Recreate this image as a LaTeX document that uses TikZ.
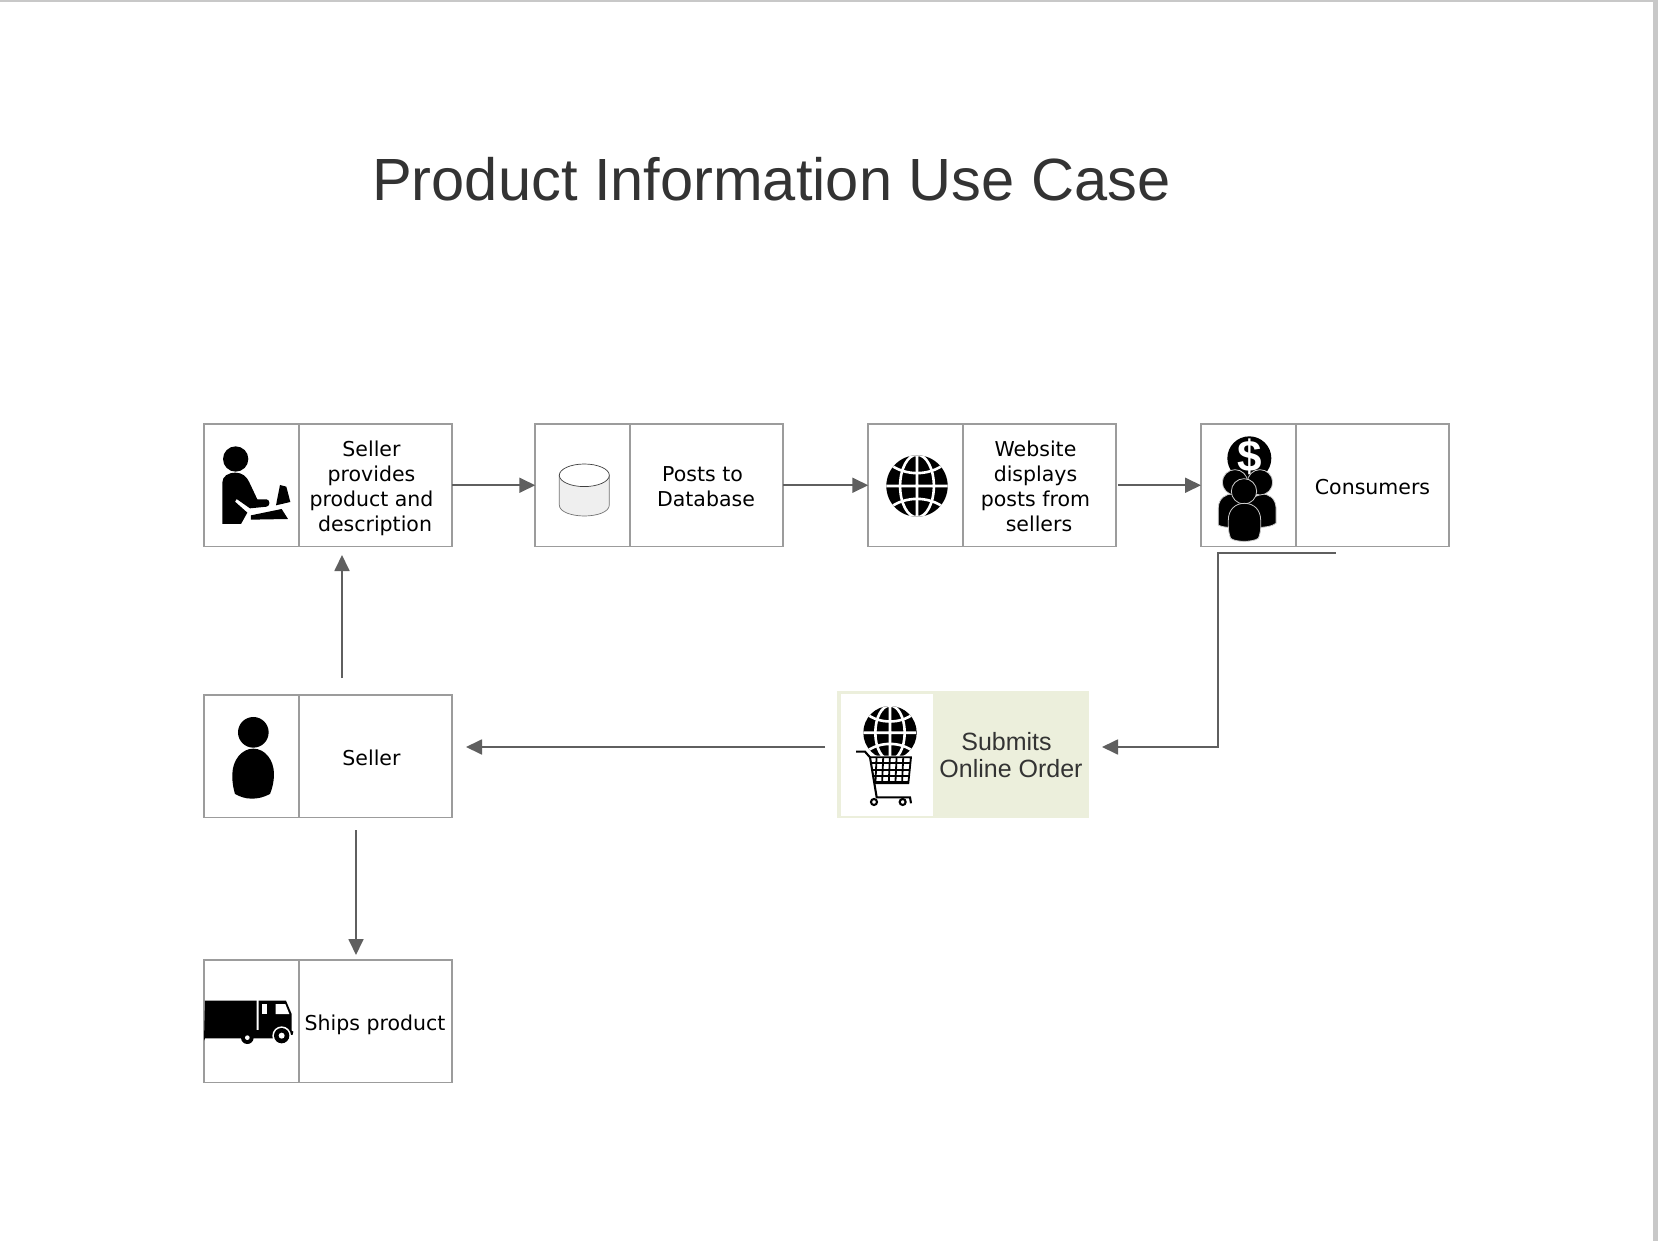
\documentclass[tikz,border=0pt]{standalone}
\usepackage{fontspec}
\setmainfont{DejaVu Sans}
\newfontfamily\arialish{Liberation Sans}
\usetikzlibrary{arrows.meta}
\definecolor{edgegrey}{HTML}{9C9C9C}
\definecolor{linegrey}{HTML}{5F5F5F}
\definecolor{titlegrey}{HTML}{333333}
\definecolor{pagegrey}{HTML}{C8C8C8}
\definecolor{olivefill}{HTML}{ECEFDC}
\definecolor{dbfill}{HTML}{EFEFEF}
\tikzset{
  flowbox/.style={draw=edgegrey,line width=1.9pt,fill=white,inner sep=0,outer sep=0,minimum width=248pt,minimum height=122.5pt},
  iconcell/.style={draw=edgegrey,line width=1.9pt,fill=white,inner sep=0,outer sep=0,minimum width=95pt,minimum height=122.5pt,anchor=west},
  boxlabel/.style={inner sep=0,outer sep=0,align=center,font=\fontsize{20.5}{25}\selectfont},
  conn/.style={draw=linegrey,line width=1.8pt,-{Triangle[length=16pt,width=15pt,fill=linegrey]}},
  iconscope/.style={shift={#1},x=0.3333pt,y=-0.3333pt}
}
\newcommand{\earth}[3]{%
  \begin{scope}[shift={(#1,#2)},x=#3pt,y=-#3pt]
    \fill[black] (0,0) circle (1);
    \clip (0,0) circle (1);
    \draw[white,line width=2.6pt] (-1,0) -- (1,0) (0,-1) -- (0,1) (0,0) ellipse (0.55 and 1.02);
    \draw[white,line width=2.6pt] (-0.9,-0.72) .. controls (-0.4,-0.32) and (0.4,-0.32) .. (0.9,-0.72);
    \draw[white,line width=2.6pt] (-0.9,0.72) .. controls (-0.4,0.32) and (0.4,0.32) .. (0.9,0.72);
  \end{scope}}
\begin{document}
\begin{tikzpicture}[x=1pt,y=-1pt]
\useasboundingbox (0,0) rectangle (1658,1241);
\fill[white] (0,0) rectangle (1658,1241);
\fill[pagegrey] (0,0) rectangle (1658,2);
\fill[pagegrey] (1653,0) rectangle (1658,1241);

\node[anchor=base west,inner sep=0,text=titlegrey,font=\arialish\fontsize{59.6}{66}\selectfont] (title) at (372,200.5) {Product Information Use Case};

% boxes
\node[flowbox] (b1) at (328,485.25) {};
\node[iconcell] (b1i) at (b1.west) {};
\node[flowbox] (b2) at (659.25,485.25) {};
\node[iconcell] (b2i) at (b2.west) {};
\node[flowbox] (b3) at (992.25,485.25) {};
\node[iconcell] (b3i) at (b3.west) {};
\node[flowbox] (b4) at (1325,485.25) {};
\node[iconcell] (b4i) at (b4.west) {};
\node[flowbox] (s) at (328,756.25) {};
\node[iconcell] (si) at (s.west) {};
\node[flowbox] (t) at (328,1021.25) {};
\node[iconcell] (ti) at (t.west) {};

\node[boxlabel] (b1t) at (371.5,488.5) {Seller\\provides\\product and\\\hspace*{7pt}description};
\node[boxlabel] (b2t) at (702.5,486.5) {Posts to\\\hspace*{7pt}Database};
\node[boxlabel] (b3t) at (1035.5,486.5) {Website\\displays\\posts from\\\hspace*{7pt}sellers};
\node[boxlabel] (b4t) at (1372.5,487) {Consumers};
\node[boxlabel] (st) at (371.5,758) {Seller};
\node[boxlabel] (tt) at (375,1025) {Ships product};

% submit order box
\node[inner sep=0,outer sep=0,fill=olivefill,minimum width=251.7pt,minimum height=126.7pt] (o) at (962.85,754.35) {};
\node[inner sep=0,outer sep=0,fill=white,minimum width=91.7pt,minimum height=122pt,anchor=west] (oi) at (841,755) {};
\node[inner sep=0,outer sep=0,align=center,text=titlegrey,font=\arialish\fontsize{25}{27.5}\selectfont] (ot) at (1011,755) {Submits\hspace*{9pt}\\Online Order};

% seller at desk icon
\begin{scope}[iconscope={(215,440)}]
  \fill[black] (62,57) circle (38);
  \fill[black] (22,252) -- (22,128) .. controls (22,108) and (40,98) .. (62,98) .. controls (82,98) and (95,110) .. (102,125) -- (127,178) -- (155,178) .. controls (166,180) and (166,198) .. (155,200) -- (105,205) -- (65,177) -- (60,185) -- (97,218) -- (78,252) -- cycle;
  \fill[black] (195,135) -- (214,140) -- (226,186) -- (183,196) -- cycle;
  \fill[black] (108,226) -- (200,207) -- (219,237) -- (108,239) -- cycle;
\end{scope}

% database icon
\fill[dbfill,draw=black!55,line width=0.7pt] (559.3,475) -- (559.3,505) .. controls (559.3,512) and (572,516) .. (584.3,516) .. controls (597,516) and (609.3,512) .. (609.3,505) -- (609.3,475) -- cycle;
\fill[white,draw=black!75,line width=0.7pt] (584.3,475.3) ellipse (25 and 11.3);

% globe icon
\earth{917}{486}{30.7}

% consumers icon
\begin{scope}[iconscope={(1190,420)}]
  \fill[black] (178,115) circle (66);
  \node[white,inner sep=0,font=\arialish\bfseries\fontsize{44}{44}\selectfont] (dollar) at (178,110) {\$};
  \tikzset{halo/.style={fill=black,draw=white!80!black,line width=0.8pt}}
  \path[halo] (85,315) -- (85,262) .. controls (87,235) and (105,222) .. (128,222) -- (165,240) -- (165,320) .. controls (125,325) and (95,322) .. (85,315) -- cycle;
  \path[halo] (258,310) -- (258,262) .. controls (256,235) and (238,222) .. (215,222) -- (170,240) -- (170,322) .. controls (225,325) and (248,318) .. (258,310) -- cycle;
  \path[halo] (135,187) circle (38);
  \path[halo] (210,187) circle (38);
  \path[halo] (162,214) circle (38);
  \path[halo] (115,300) .. controls (115,270) and (135,250) .. (163,250) .. controls (192,250) and (212,270) .. (212,300) .. controls (214,325) and (210,345) .. (205,355) .. controls (190,367) and (135,367) .. (122,355) .. controls (116,340) and (114,325) .. (115,300) -- cycle;
\end{scope}

% seller icon
\begin{scope}[iconscope={(190,680)}]
  \fill[black] (190,157) circle (46);
  \fill[black] (190,206) .. controls (225,206) and (252,240) .. (252,282) .. controls (252,305) and (247,325) .. (240,342) .. controls (220,352) and (205,356) .. (185,356) .. controls (165,356) and (150,350) .. (135,342) .. controls (130,325) and (126,305) .. (127,282) .. controls (128,240) and (155,206) .. (190,206) -- cycle;
\end{scope}

% truck icon
\begin{scope}[iconscope={(200,990)}]
  \fill[black] (15,32) -- (170,32) -- (170,120) -- (176,120) -- (176,32) -- (258,32) -- (275,72) -- (275,122) -- (280,125) -- (278,134) -- (225,145) -- (15,145) -- (12,152) -- cycle;
  \fill[white] (187,42) rectangle (200,72);
  \fill[white] (227,42) -- (256,42) -- (268,72) -- (227,72) -- cycle;
  \fill[white] (245,137) circle (28);
  \fill[black] (245,137) circle (23);
  \fill[white] (245,137) circle (9);
  \fill[black] (142,143) circle (19);
  \fill[white] (142,143) circle (7);
\end{scope}

% cart icon
\earth{890}{732.7}{26.7}
\begin{scope}[iconscope={(850,700)}]
  \fill[white] (56,167) -- (188,167) -- (180,254) -- (70,254) -- cycle;
  \begin{scope}
    \clip (60,172) -- (183,172) -- (175,250) -- (73,250) -- cycle;
    \fill[white] (50,165) rectangle (190,255);
    \foreach \yy in {172,190,209,228,247} \draw[black,line width=2.1pt] (50,\yy) -- (190,\yy);
    \foreach \xx in {60,80,100,120,140,160,183} \draw[black,line width=1.8pt] (\xx,165) -- (\xx-4,255);
  \end{scope}
  \draw[black,line width=1.8pt] (60,172) -- (183,172) -- (175,250) -- (73,250);
  \draw[black,line width=2.1pt] (18,155) -- (45,155) -- (60,172) -- (80,292) -- (180,292) -- (183,310);
  \draw[black,line width=2.1pt,fill=white] (72,306) circle (9);
  \draw[black,line width=2.1pt,fill=white] (158,306) circle (9);
\end{scope}

% connectors
\coordinate (upA) at (342,678);
\coordinate (upB) at (342,555);
\coordinate (dnA) at (356,830);
\coordinate (dnB) at (356,955);
\coordinate (ordA) at (825,747);
\coordinate (ordB) at (466,747);
\coordinate (cA) at (1335.5,553);
\coordinate (cB) at (1218,553);
\coordinate (cC) at (1218,747);
\coordinate (cD) at (1102,747);
\draw[conn] (b1.east) -- (b2.west);
\draw[conn] (b2.east) -- (b3.west);
\draw[conn,shorten <=1.5pt] (b3.east) -- (b4.west);
\draw[conn] (upA) -- (upB);
\draw[conn] (dnA) -- (dnB);
\draw[conn] (ordA) -- (ordB);
\draw[conn] (cA) -- (cB) -- (cC) -- (cD);
\end{tikzpicture}
\end{document}
